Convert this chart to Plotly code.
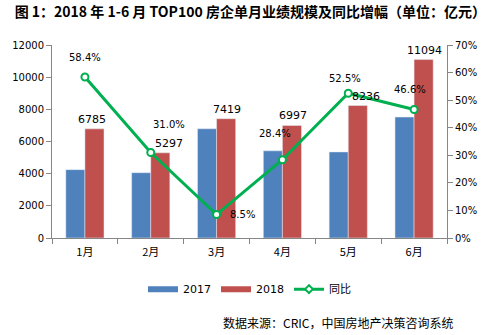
import plotly.graph_objects as go

months = ["1月", "2月", "3月", "4月", "5月", "6月"]
v2017 = [4250, 4060, 6790, 5420, 5350, 7520]
v2018 = [6785, 5297, 7419, 6997, 8236, 11094]
yoy = [0.584, 0.310, 0.085, 0.284, 0.525, 0.466]
yoy_labels = ["58.4%", "31.0%", "8.5%", "28.4%", "52.5%", "46.6%"]

BLUE = "#4F81BD"
RED = "#C0504D"
GREEN = "#00B050"
FONT = "DejaVu Sans, Noto Sans CJK SC, sans-serif"

fig = go.Figure()
fig.add_trace(go.Bar(x=months, y=v2017, name="2017", marker_color=BLUE,
                     showlegend=False))
fig.add_trace(go.Bar(x=months, y=v2018, name="2018", marker_color=RED,
                     showlegend=False))
fig.add_trace(go.Scatter(x=months, y=yoy, name="同比", yaxis="y2",
                         mode="lines+markers", showlegend=False,
                         line=dict(color=GREEN, width=3),
                         marker=dict(symbol="circle", size=7, color="white",
                                     line=dict(color=GREEN, width=2))))
# legend entries (wide flat swatches like the original)
fig.add_trace(go.Scatter(x=[None], y=[None], name="2017", mode="lines",
                         line=dict(color=BLUE, width=6)))
fig.add_trace(go.Scatter(x=[None], y=[None], name="2018", mode="lines",
                         line=dict(color=RED, width=6)))
fig.add_trace(go.Scatter(x=[None], y=[None], name="同比", mode="lines+markers",
                         line=dict(color=GREEN, width=3),
                         marker=dict(symbol="diamond", size=6, color="white",
                                     line=dict(color=GREEN, width=2))))

# 2018 value labels (x offsets as placed in the original)
bar_dx = [7, 18, 10, 11, 18, 10]
for m, v, dx in zip(months, v2018, bar_dx):
    fig.add_annotation(x=m, y=v, text=str(v), showarrow=False, xshift=dx,
                       yanchor="bottom", yshift=1,
                       font=dict(size=11, color="#000000", family=FONT))

# percent label offsets (px) as placed in the original
offs = [(0, 19), (18, 28), (26, 0), (-7, 26), (-3, 15), (-4, 20)]
for m, v, t, (dx, dy) in zip(months, yoy, yoy_labels, offs):
    fig.add_annotation(x=m, y=v, yref="y2", text=t, showarrow=False,
                       xshift=dx, yshift=dy,
                       font=dict(size=10, color="#000000", family=FONT))

fig.add_annotation(xref="paper", yref="paper", x=1.02, y=-0.44, xanchor="right",
                   yanchor="middle", text="数据来源：CRIC，中国房地产决策咨询系统",
                   showarrow=False, font=dict(size=12, color="#000000",
                                              family="Noto Sans CJK SC"))

fig.update_layout(
    width=488, height=335,
    margin=dict(l=52, r=41, t=45, b=97),
    paper_bgcolor="white", plot_bgcolor="white",
    title=dict(text="<b>图 1：2018 年 1-6 月 TOP100 房企单月业绩规模及同比增幅（单位：亿元）</b>",
               x=0.03, xanchor="left", y=0.965, yanchor="middle",
               font=dict(size=14, color="#000000", family="Noto Sans CJK SC")),
    barmode="group", bargap=0.42, bargroupgap=0,
    font=dict(family=FONT, size=10, color="#000000"),
    xaxis=dict(showline=True, linecolor="#868686", ticks="outside",
               tickson="boundaries", ticklen=5, tickcolor="#868686",
               ticklabelstandoff=4,
               tickfont=dict(size=11, family="Noto Sans CJK SC")),
    yaxis=dict(range=[0, 12000], dtick=2000, tickformat="d", showgrid=False,
               showline=True, linecolor="#868686", ticks="outside", ticklen=5,
               tickcolor="#868686", zeroline=False),
    yaxis2=dict(range=[0, 0.7], dtick=0.1, tickformat=".0%", overlaying="y",
                side="right", showgrid=False, showline=True,
                linecolor="#868686", ticks="outside", ticklen=5,
                tickcolor="#868686", zeroline=False),
    legend=dict(orientation="h", x=0.5, xanchor="center", y=-0.265,
                yanchor="middle", font=dict(size=11, family=FONT),
                itemwidth=30, traceorder="normal", tracegroupgap=0),
    showlegend=True,
)

fig.write_html("out.html")
